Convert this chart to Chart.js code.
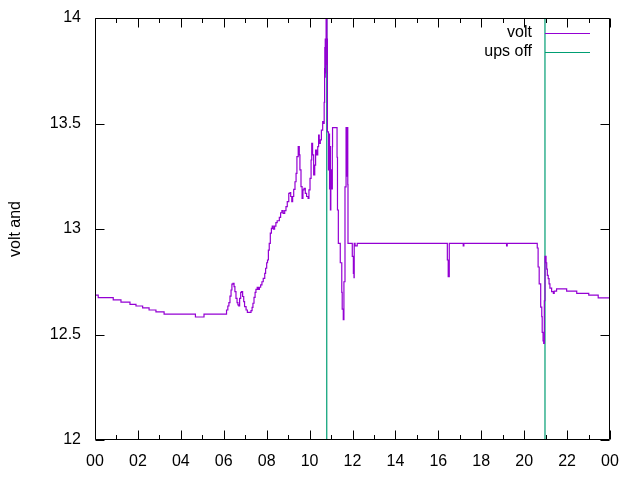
<!DOCTYPE html>
<html><head><meta charset="utf-8">
<script src="https://cdn.jsdelivr.net/npm/chart.js@4"></script>
<style>html,body{margin:0;padding:0;background:#fff}canvas{display:block}</style>
</head><body>
<canvas id="c" width="640" height="480"></canvas>
<script>
// ---- data ----
const voltHours = [
  0.00,0.15,0.85,1.21,1.63,1.91,2.22,2.52,2.84,3.22,4.68,5.08,
  6.13,6.19,6.24,6.29,6.34,6.38,6.43,6.48,6.52,6.57,6.62,6.66,6.70,6.74,6.79,6.83,6.88,6.93,6.97,7.04,7.10,
  7.27,7.32,7.36,7.41,7.46,7.50,7.56,7.61,7.66,7.72,7.78,7.84,7.91,7.95,8.00,8.04,
  8.08,8.12,8.17,8.22,8.26,8.31,8.37,8.43,8.49,8.59,8.65,8.71,8.77,8.84,8.90,8.96,9.03,9.09,9.12,9.17,9.21,
  9.26,9.32,9.37,9.41,9.47,9.52,9.55,9.60,9.65,9.69,9.74,9.80,9.86,9.93,9.97,10.02,10.07,10.10,10.14,10.19,
  10.24,10.28,10.33,10.38,10.42,10.45,10.50,10.55,10.61,10.66,10.68,10.70,10.71,10.72,10.73,10.74,10.75,10.76,
  10.77,10.79,10.81,10.83,
  10.84,10.88,10.90,10.93,10.95,10.97,10.99,11.02,11.06,11.07,11.28,11.30,11.34,11.43,11.50,11.52,11.57,11.60,
  11.65,11.70,11.72,11.74,11.76,11.77,11.78,11.79,11.99,12.04,12.07,12.08,12.12,12.22,
  16.42,16.46,16.51,17.16,17.19,19.18,19.21,
  20.61,20.65,20.70,20.77,20.82,20.84,20.88,20.91,20.94,20.97,21.02,21.05,21.08,21.12,21.16,21.20,21.28,21.36,
  21.40,21.51,21.98,22.45,23.01,23.45,24.00
];
const voltValues = [
  12.687,12.675,12.664,12.653,12.643,12.635,12.626,12.616,12.607,12.597,12.583,12.597,
  12.616,12.635,12.651,12.682,12.711,12.739,12.743,12.727,12.703,12.671,12.651,12.640,12.635,12.671,12.700,12.703,12.680,12.656,12.632,12.616,12.605,
  12.613,12.629,12.648,12.676,12.700,12.714,12.724,12.714,12.724,12.735,12.750,12.766,12.790,12.814,12.840,12.853,
  12.900,12.932,12.980,13.003,13.014,12.999,13.014,13.030,13.039,13.055,13.077,13.087,13.074,13.087,13.106,13.130,13.169,13.172,13.154,13.130,13.154,
  13.188,13.224,13.264,13.343,13.390,13.351,13.280,13.201,13.145,13.185,13.193,13.169,13.154,13.145,13.185,13.240,13.327,13.406,13.351,13.256,
  13.303,13.374,13.351,13.390,13.445,13.406,13.422,13.469,13.509,13.500,13.600,13.760,13.860,13.720,13.900,13.740,13.880,13.780,
  14.100,14.200,13.900,13.460,
  13.460,13.280,13.450,13.190,13.390,13.090,13.280,13.190,13.390,13.480,13.340,13.090,12.932,12.840,12.700,12.620,12.570,12.750,
  13.200,13.480,13.250,13.480,13.300,13.480,13.210,12.932,12.870,12.790,12.770,12.932,12.920,12.932,
  12.853,12.774,12.932,12.920,12.932,12.920,12.932,
  12.910,12.820,12.740,12.630,12.585,12.510,12.470,12.458,12.660,12.870,12.840,12.810,12.780,12.765,12.740,12.720,12.703,12.695,
  12.706,12.716,12.706,12.695,12.687,12.674,12.674
];
const upsHours  = [0, 10.78, 10.80, 20.96, 20.98, 24];
const upsValues = [0, 0, 26, 26, 0, 0];
const seriesLabels = ['volt', 'ups off'];
const seriesColors = ['#9400d3', '#009e73'];
const xTickLabels = ['00','02','04','06','08','10','12','14','16','18','20','22','00'];
const yTickLabels = ['12','12.5','13','13.5','14'];
const yTitle = 'volt and';

const FONT = 'Liberation Sans';
Chart.defaults.font.family = FONT;
Chart.defaults.font.size = 16;
Chart.defaults.color = '#000';

const toPts = (xs, ys) => xs.map((x, i) => ({x: x, y: ys[i]}));

const frameAndKey = {
  id: 'frameAndKey',
  afterDraw(chart) {
    const ctx = chart.ctx, a = chart.chartArea;
    const xs = chart.scales.x, ys = chart.scales.y;
    const L = Math.round(a.left) + 0.5, R = Math.round(a.right) - 0.5;
    const T = Math.round(a.top) + 0.5, B = Math.round(a.bottom) - 0.5;
    const MAJ = 9, MIN = 4.5;
    ctx.save();
    ctx.strokeStyle = '#000';
    ctx.lineWidth = 1;
    ctx.beginPath();
    ctx.rect(L, T, R - L, B - T);
    for (let h = xs.min; h <= xs.max; h += 1) {
      const px = Math.round(xs.getPixelForValue(h)) + 0.5;
      const len = (h % 2 === 0) ? MAJ : MIN;
      ctx.moveTo(px, B); ctx.lineTo(px, B - len);
      ctx.moveTo(px, T); ctx.lineTo(px, T + len);
    }
    ys.ticks.forEach(t => {
      const py = Math.round(ys.getPixelForValue(t.value)) + 0.5;
      ctx.moveTo(L, py); ctx.lineTo(L + MAJ, py);
      ctx.moveTo(R, py); ctx.lineTo(R - MAJ, py);
    });
    ctx.stroke();
    ctx.font = '16px "' + FONT + '"';
    ctx.textAlign = 'right';
    ctx.textBaseline = 'middle';
    chart.data.datasets.forEach((ds, i) => {
      const y = 33 + i * 19;
      ctx.fillStyle = '#000';
      ctx.fillText(ds.label, 532, y);
      ctx.strokeStyle = ds.borderColor;
      ctx.beginPath();
      ctx.moveTo(545, Math.round(y) + 0.5);
      ctx.lineTo(590, Math.round(y) + 0.5);
      ctx.stroke();
    });
    ctx.restore();
  }
};

new Chart(document.getElementById('c'), {
  type: 'line',
  data: {
    datasets: [
      { label: seriesLabels[0], data: toPts(voltHours, voltValues), borderColor: seriesColors[0],
        borderWidth: 1.2, pointRadius: 0, stepped: 'before', fill: false },
      { label: seriesLabels[1], data: toPts(upsHours, upsValues), borderColor: seriesColors[1],
        borderWidth: 1.2, pointRadius: 0, fill: false }
    ]
  },
  options: {
    responsive: false,
    animation: false,
    devicePixelRatio: 1,
    layout: { padding: { left: 0, right: 30, top: 18, bottom: 0 } },
    plugins: { legend: { display: false }, tooltip: { enabled: false } },
    scales: {
      x: {
        type: 'linear', min: 0, max: 24,
        grid: { display: false, drawTicks: false }, border: { display: false },
        ticks: { stepSize: 2, autoSkip: false, maxRotation: 0, padding: 12,
                 callback: (v, i) => xTickLabels[i] },
        afterFit: s => { s.height = 40; s.paddingLeft = 0; s.paddingRight = 0; }
      },
      y: {
        type: 'linear', min: 12, max: 14,
        grid: { display: false, drawTicks: false }, border: { display: false },
        ticks: { stepSize: 0.5, padding: 14, callback: (v, i) => yTickLabels[i] },
        title: { display: true, text: yTitle, padding: { top: 6, bottom: 0 }, font: { size: 16 } },
        afterFit: s => { s.width = 95; s.paddingTop = 0; s.paddingBottom = 0; }
      }
    }
  },
  plugins: [frameAndKey]
});
</script>
</body></html>
